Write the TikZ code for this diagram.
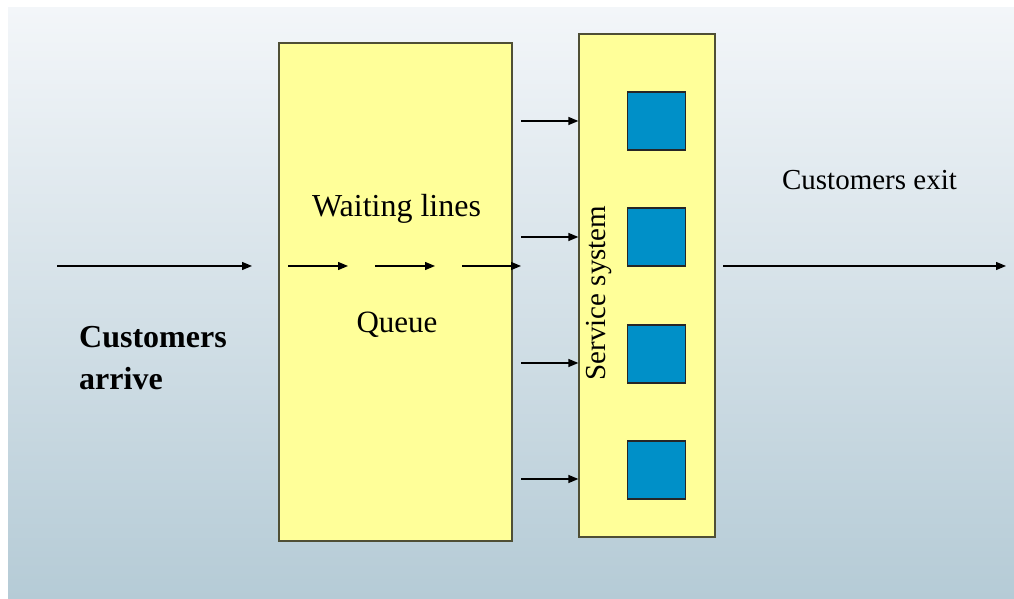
\documentclass[tikz,border=0pt]{standalone}
\usepackage{fontspec}
\setmainfont{Liberation Serif}
\usetikzlibrary{arrows.meta}
\definecolor{bgtop}{HTML}{F3F6F9}
\definecolor{bgbot}{HTML}{B5CBD6}
\definecolor{boxfill}{HTML}{FFFF99}
\definecolor{boxline}{HTML}{4F4F35}
\definecolor{server}{HTML}{0090C8}
\tikzset{
  stage/.style={draw=boxline, line width=1.3pt, fill=boxfill, inner sep=0pt},
  serverbox/.style={draw=black!85, line width=1.1pt, fill=server, minimum width=58pt, minimum height=58pt, inner sep=0pt},
  flow/.style={line width=1.3pt, -{Triangle[length=10pt,width=8pt]}},
  lbl/.style={inner sep=0pt, anchor=base},
}
\begin{document}
\begin{tikzpicture}[x=1pt,y=1pt]
\useasboundingbox (0,0) rectangle (1014,599);
% backdrop
\shade[top color=bgtop, bottom color=bgbot] (8,0) rectangle (1014,591);

% queue and service boxes
\node[stage, minimum width=233pt, minimum height=498pt] (queue) at (395.5,307) {};
\node[stage, minimum width=136pt, minimum height=503pt] (service) at (647,313.5) {};

% servers
\node[serverbox] (s1) at (656.5,478) {};
\node[serverbox] (s2) at (656.5,362) {};
\node[serverbox] (s3) at (656.5,245) {};
\node[serverbox] (s4) at (656.5,129) {};

% labels
\node[lbl, font=\fontsize{32}{38}\selectfont] (wl) at (396.5,382) {Waiting lines};
\node[lbl, font=\fontsize{31}{37}\selectfont] (qu) at (397,266) {Queue};
\node[lbl, font=\fontsize{29}{35}\selectfont] (ce) at (869.5,409) {Customers exit};
\node[inner sep=0pt, anchor=base west, font=\fontsize{32}{38}\selectfont\bfseries] (ca1) at (79,251) {Customers};
\node[inner sep=0pt, anchor=base west, font=\fontsize{32}{38}\selectfont\bfseries] (ca2) at (79,209) {arrive};
\node[inner sep=0pt, anchor=base, rotate=90, font=\fontsize{29}{34}\selectfont] (ss) at (605,306) {Service system};

% flow coordinates
\coordinate (in0) at (57,333);  \coordinate (in1) at (252,333);
\coordinate (q0a) at (288,333); \coordinate (q0b) at (348,333);
\coordinate (q1a) at (375,333); \coordinate (q1b) at (435,333);
\coordinate (q2a) at (462,333); \coordinate (q2b) at (521,333);
\coordinate (out0) at (723,333); \coordinate (out1) at (1006,333);
\foreach \i/\y in {1/478,2/362,3/236,4/120}{
  \coordinate (r\i a) at (521,\y);
}

% arrows
\draw[flow] (in0) -- (in1);
\draw[flow] (q0a) -- (q0b);
\draw[flow] (q1a) -- (q1b);
\draw[flow] (q2a) -- (q2b);
\draw[flow] (out0) -- (out1);
\foreach \i in {1,...,4}{
  \draw[flow] (r\i a) -- (r\i a -| service.west);
}
\end{tikzpicture}
\end{document}
